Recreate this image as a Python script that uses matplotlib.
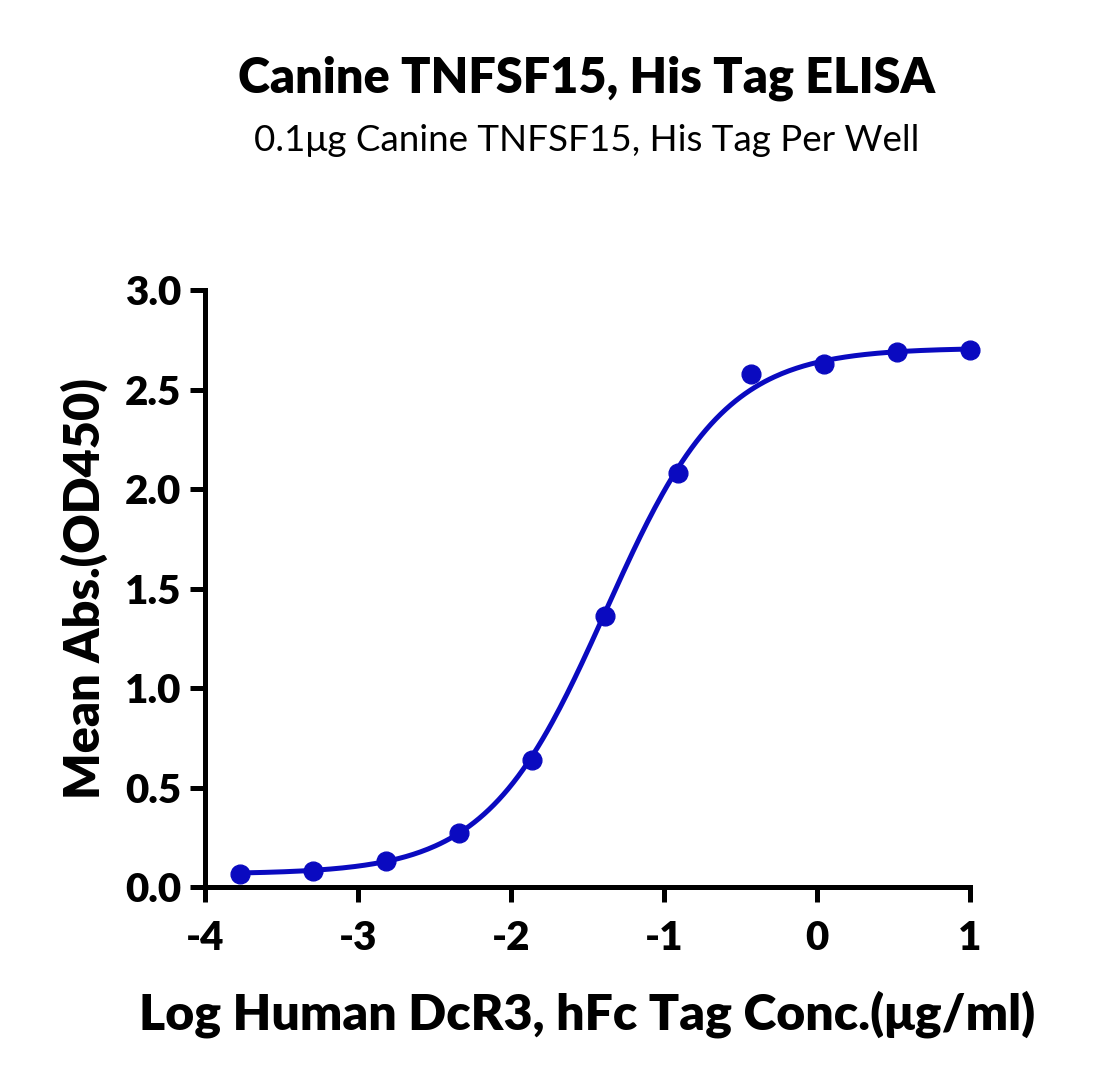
import numpy as np
import matplotlib
matplotlib.use("Agg")
import matplotlib.pyplot as plt

# data
log_conc = [-3.771, -3.294, -2.817, -2.340, -1.863, -1.386, -0.908, -0.431, 0.046, 0.523, 1.0]
mean_abs = [0.064, 0.08, 0.13, 0.27, 0.64, 1.36, 2.08, 2.58, 2.63, 2.69, 2.70]

# 4PL fit parameters (estimated from the drawn curve)
fit_bottom = 0.065
fit_top = 2.71
fit_logec50 = -1.38
fit_hill = 1.12

title = "Canine TNFSF15, His Tag ELISA"
subtitle = "0.1\u03bcg Canine TNFSF15, His Tag Per Well"
xlabel = "Log Human DcR3, hFc Tag Conc.(\u03bcg/ml)"
ylabel = "Mean Abs.(OD450)"
blue = "#0A0AC0"

plt.rcParams['font.family'] = ['Lato', 'DejaVu Sans']

fig = plt.figure(figsize=(11.02, 10.87), dpi=100)
ax = fig.add_axes([0.186, 0.184, 0.694, 0.549])

xs = np.linspace(log_conc[0], log_conc[-1], 300)
ys = fit_bottom + (fit_top - fit_bottom) / (1 + 10 ** ((fit_logec50 - xs) * fit_hill))
ax.plot(xs, ys, color=blue, lw=3.6, zorder=2)
ax.plot(log_conc, mean_abs, 'o', color=blue, ms=13.5, zorder=3, clip_on=False)

ax.set_xlim(-4, 1)
ax.set_ylim(0, 3.0)
ax.set_xticks([-4, -3, -2, -1, 0, 1])
ax.set_xticklabels(['-4', '-3', '-2', '-1', '0', '1'])
ax.set_yticks([0, 0.5, 1.0, 1.5, 2.0, 2.5, 3.0])
ax.set_yticklabels(['0.0', '0.5', '1.0', '1.5', '2.0', '2.5', '3.0'])

for s in ['top', 'right']:
    ax.spines[s].set_visible(False)
for s in ['left', 'bottom']:
    ax.spines[s].set_linewidth(3.6)
ax.tick_params(width=3.6, length=11, labelsize=29, pad=6)
for lab in ax.get_xticklabels() + ax.get_yticklabels():
    lab.set_fontweight('heavy')
ax.tick_params(axis='x', pad=13)

ax.set_xlabel(xlabel, fontsize=36, fontweight='heavy', labelpad=24)
ax.set_ylabel(ylabel, fontsize=35, fontweight='heavy', labelpad=12)

fig.text(0.532, 0.928, title, ha='center', va='center', fontsize=35, fontweight='heavy')
fig.text(0.532, 0.871, subtitle, ha='center', va='center', fontsize=26.5, fontweight='normal')

fig.savefig('out.png', dpi=100, facecolor='white')
